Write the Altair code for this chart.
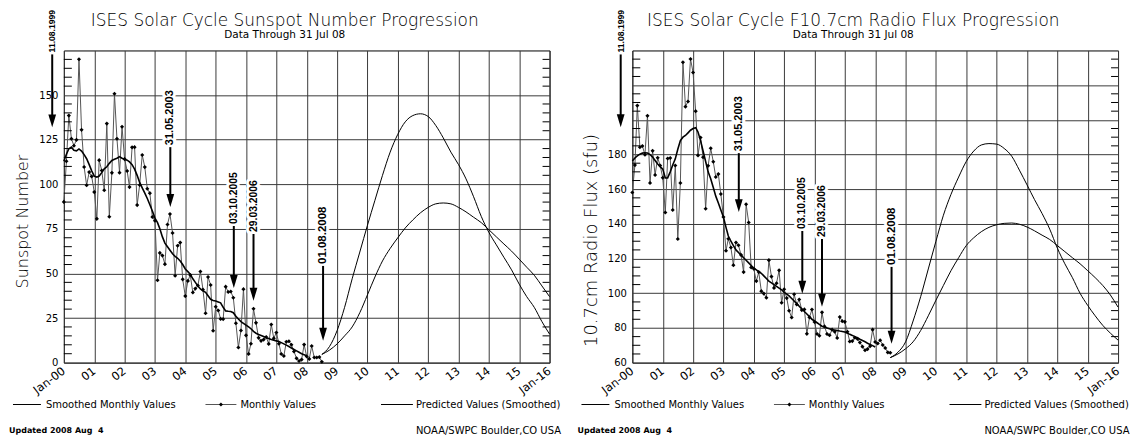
import json
import altair as alt
import pandas as pd

# ------------------------------------------------------------------ data
# Monthly sunspot number, Jan 2000 .. Jul 2008
ssn_monthly = [
    90.1, 112.9, 138.5, 125.5, 121.6, 124.9, 170.1, 130.5, 109.7, 99.4, 106.8, 104.4,
    95.6, 80.6, 113.5, 107.7, 96.6, 134.0, 81.8, 106.4, 150.7, 125.5, 106.5, 132.2,
    114.1, 107.4, 98.4, 120.7, 120.8, 88.3, 99.6, 116.4, 109.6, 97.5, 95.0, 81.6,
    79.5, 46.2, 61.5, 60.0, 55.2, 77.4, 83.3, 72.7, 48.7, 65.5, 67.3, 46.7,
    37.3, 45.8, 49.1, 39.3, 41.5, 43.2, 51.1, 40.9, 27.7, 48.0, 43.5, 17.9,
    31.3, 29.2, 24.5, 24.4, 42.6, 39.6, 39.9, 36.4, 22.1, 8.5, 18.0, 41.2,
    15.3, 4.9, 10.6, 30.2, 22.3, 13.9, 12.2, 12.9, 14.4, 10.5, 21.4, 13.6,
    16.9, 10.6, 4.8, 3.7, 11.7, 12.0, 10.0, 6.2, 2.4, 0.9, 1.7, 10.1,
    3.4, 2.1, 9.3, 2.9, 2.9, 3.1, 0.5,
]
# Smoothed monthly sunspot number, Jan 2000 .. Jan 2008
ssn_smoothed = [
    112.9, 116.8, 119.9, 120.8, 119.0, 118.7, 119.8, 118.6, 116.6, 114.3, 111.0, 107.5,
    104.5, 104.0, 104.6, 106.5, 108.6, 109.8, 111.7, 113.3, 114.0, 114.6, 115.5, 114.6,
    114.0, 113.5, 112.5, 111.0, 108.5, 105.0, 101.0, 98.0, 95.0, 92.0, 88.5, 85.0,
    81.0, 78.5, 75.0, 70.5, 67.0, 65.0, 63.0, 61.0, 59.5, 58.5, 57.0, 55.0,
    52.5, 51.0, 49.5, 47.0, 45.0, 43.0, 41.3, 40.2, 39.4, 37.5, 35.5, 34.8,
    34.5, 34.0, 33.5, 31.0, 29.0, 28.8, 28.7, 28.0, 26.0, 24.5, 23.0, 22.0,
    21.0, 20.0, 19.0, 17.5, 16.5, 15.8, 15.2, 14.6, 14.0, 13.5, 13.0, 12.6,
    12.2, 11.8, 11.2, 10.5, 9.8, 9.0, 8.2, 7.4, 6.6, 5.8, 5.0, 4.4,
    3.8,
]
# Predicted smoothed sunspot number, quarterly Jul 2008 .. Jan 2016
ssn_pred_high = [
    4.6, 9, 18, 31, 47, 62, 77, 91, 105, 118, 128, 135, 138.5, 139.5, 138, 133,
    126, 118, 111, 103, 93, 82, 73, 66, 59, 52, 44, 37, 31, 23, 16,
]
ssn_pred_low = [
    4.6, 7, 10.5, 15, 20, 28, 38, 48, 57, 64, 70, 75.5, 80, 84, 87, 89,
    89.5, 89, 87, 84.5, 81.5, 78.5, 74.5, 70.5, 66.5, 62.5, 58, 53.5, 49, 43, 37,
]

# Monthly 10.7 cm radio flux, Jan 2000 .. Jul 2008
f107_monthly = [
    158.1, 173.9, 208.2, 184.2, 184.9, 179.9, 202.3, 163.6, 182.1, 168.2, 178.1, 173.6,
    166.6, 146.6, 177.7, 178.0, 148.0, 173.7, 131.3, 163.6, 233.2, 207.6, 210.6, 235.1,
    227.3, 205.0, 179.5, 189.8, 178.4, 148.7, 173.5, 183.6, 175.8, 167.0, 168.7, 157.2,
    144.0, 124.5, 131.4, 126.4, 116.2, 129.3, 127.7, 122.1, 112.2, 151.3, 140.8, 114.9,
    114.1, 107.0, 112.2, 101.2, 99.8, 97.4, 119.1, 109.6, 103.1, 105.8, 113.2, 94.5,
    102.3, 97.2, 89.9, 86.0, 99.4, 93.5, 96.4, 90.3, 90.7, 76.6, 86.1, 90.6,
    83.4, 76.5, 75.5, 89.0, 80.9, 76.5, 75.8, 79.0, 77.8, 74.2, 86.3, 83.9,
    83.5, 77.8, 72.2, 72.4, 74.4, 73.7, 71.6, 69.2, 67.1, 67.8, 69.5, 79.0,
    71.9, 71.0, 72.9, 70.2, 68.4, 65.9, 65.7,
]
# Smoothed monthly radio flux, Jan 2000 .. Jan 2008
f107_smoothed = [
    176.3, 178.0, 179.2, 180.2, 180.8, 181.0, 180.9, 180.0, 178.5, 176.5, 174.5, 173.0,
    171.6, 166.5, 166.5, 170.0, 174.0, 177.5, 183.0, 188.0, 190.0, 191.0, 192.5, 194.0,
    195.0, 195.5, 193.0, 188.0, 182.0, 176.0, 170.0, 166.0, 161.0, 156.0, 152.0, 148.0,
    144.0, 138.0, 133.0, 130.0, 127.5, 125.0, 123.5, 122.0, 120.5, 119.0, 117.5, 116.0,
    114.5, 113.5, 112.5, 111.5, 110.0, 108.5, 107.0, 106.0, 105.0, 104.0, 103.0, 102.0,
    100.5, 99.5, 98.5, 97.0, 95.5, 94.0, 92.5, 91.0, 89.5, 88.0, 86.5, 85.0,
    84.0, 83.0, 82.0, 81.0, 80.5, 80.0, 79.5, 79.0, 78.8, 78.5, 78.2, 78.0,
    77.6, 77.0, 76.3, 75.7, 75.0, 74.3, 73.5, 72.8, 72.0, 71.2, 70.5, 69.8,
    69.0,
]
# Predicted smoothed radio flux, quarterly Jul 2008 .. Jan 2016
f107_pred_high = [
    62.9, 66, 72, 84, 98, 114, 130, 145, 157, 167, 176, 182, 185.5, 186.3, 186, 183.5,
    179, 171, 162.5, 154, 146, 137, 126, 117, 109, 100, 93, 87, 81.5, 77, 73,
]
f107_pred_low = [
    62.9, 65, 68, 72, 78.5, 87, 96, 104.5, 113, 120.5, 127.5, 132, 135.5, 138, 139.5, 140.3,
    140.5, 139.8, 138.2, 136, 133.5, 131, 127.5, 124, 120.5, 117, 113, 109, 104.5, 99, 92,
]

x_tick_labels = ["Jan-00", "01", "02", "03", "04", "05", "06", "07", "08",
                 "09", "10", "11", "12", "13", "14", "15", "Jan-16"]
ssn_y_ticks = [0, 25, 50, 75, 100, 125, 150]
f107_y_ticks = [60, 80, 100, 120, 140, 160, 180, 200, 220]
f107_label_max = 180
ssn_minor_ticks = [v for v in range(5, 175, 5) if v % 25]
f107_minor_ticks = [v for v in range(65, 240, 5) if v % 20]

annotation_labels = ["11.08.1999", "31.05.2003", "03.10.2005", "29.03.2006", "01.08.2008"]
annotation_dates = ["1999-08-14", "2003-07-05", "2005-08-07", "2006-04-01", "2008-07-16"]
annotation_font_sizes = [8.6, 11, 10.4, 10.4, 11.5]
ssn_ann_bottom = [172.8, 120.8, 76.6, 72.1, 54.2]
ssn_ann_tip = [131.9, 87.2, 41.9, 34.7, 12.3]
f107_ann_bottom = [237.7, 180.8, 135.9, 131.3, 115.2]
f107_ann_tip = [195.7, 146.8, 99.7, 92.2, 70.9]

legend_labels = ["Smoothed Monthly Values", "Monthly Values", "Predicted Values (Smoothed)"]
footer_left = "Updated 2008 Aug\u00a0 4"
footer_right = "NOAA/SWPC Boulder,CO USA"
subtitle = "Data Through 31 Jul 08"

# ------------------------------------------------------------------ style
FONT = "DejaVu Sans"
ANN_FONT = "Liberation Sans, Arial, sans-serif"
W, H = 487, 313
GRID = "#3a3a3a"
ARROW = "M -0.3 -1 L 0.3 -1 L 0 0 Z"

one_row = alt.Data(values=[{"k": 0}])


def txt(s, x, y, size=10, align="left", weight="normal"):
    return alt.Chart(one_row).mark_text(
        align=align, baseline="middle", font=FONT, fontSize=size,
        fontWeight=weight, color="black"
    ).encode(x=alt.value(x), y=alt.value(y), text=alt.value(s))


def seg(x1, x2, y, color="black", width=1):
    return alt.Chart(one_row).mark_rule(color=color, strokeWidth=width).encode(
        x=alt.value(x1), x2=alt.value(x2), y=alt.value(y))


def panel(title, ytitle, ytitle_size, monthly, smoothed, hi, lo, ydomain, yticks, label_max,
          minor, ann_bottom, ann_tip, title_y):
    xs = alt.Scale(domain=[alt.DateTime(year=2000, month=1, date=1),
                           alt.DateTime(year=2016, month=1, date=1)], nice=False)
    ys = alt.Scale(domain=ydomain, nice=False, zero=False)

    mdf = pd.DataFrame({"date": pd.date_range("2000-01-01", periods=len(monthly), freq="MS"),
                        "v": monthly})
    sdf = pd.DataFrame({"date": pd.date_range("2000-01-01", periods=len(smoothed), freq="MS"),
                        "v": smoothed})
    pdates = pd.date_range("2008-07-01", periods=len(hi), freq="QS")
    pdf = pd.concat([
        pd.DataFrame({"date": pdates, "v": hi, "s": "high"}),
        pd.DataFrame({"date": pdates, "v": lo, "s": "low"}),
    ])
    adf = pd.DataFrame({"label": annotation_labels, "date": pd.to_datetime(annotation_dates),
                        "bottom": ann_bottom, "tip": ann_tip, "fs": annotation_font_sizes})
    tdf = pd.DataFrame({"v": minor})

    xaxis = alt.Axis(
        values=[alt.DateTime(year=2000 + i, month=1, date=1) for i in range(len(x_tick_labels))],
        labelExpr=json.dumps(x_tick_labels) + "[year(datum.value) - 2000]",
        labelAngle=323, labelAlign="right", labelBaseline="middle", labelPadding=7,
        labelFont=FONT, labelFontSize=11.5, labelColor="black", labelOverlap=False,
        ticks=False, domain=False, grid=True, gridColor=GRID, gridWidth=1, title=None,
    )
    yaxis = alt.Axis(
        values=yticks,
        labelExpr="datum.value <= %d ? datum.label : ''" % label_max,
        labelFont=FONT, labelFontSize=10, labelColor="black", labelPadding=6,
        labelOverlap=False,
        ticks=False, domain=False, grid=True, gridColor=GRID, gridWidth=1,
        title=ytitle, titleFont=FONT, titleFontSize=ytitle_size, titleFontWeight=300,
        titleColor="black", titleAngle=270, titleAlign="center", titleBaseline="middle",
        titleX=-41, titleY=title_y,
    )

    def X():
        return alt.X("date:T", scale=xs, axis=xaxis)

    def Y(field):
        return alt.Y(field + ":Q", scale=ys, axis=yaxis)

    halo = alt.Chart(adf).transform_filter("year(datum.date) >= 2000").mark_text(
        angle=270, align="left", baseline="middle", font=ANN_FONT,
        fontWeight="bold", dx=2, fill="white", stroke="white", strokeWidth=6,
    ).encode(x=X(), y=Y("bottom"), text="label:N", size=alt.Size("fs:Q", scale=None))

    monthly_line = alt.Chart(mdf).mark_line(color="#555555", strokeWidth=1).encode(
        x=X(), y=Y("v"))
    monthly_pts = alt.Chart(mdf).mark_point(
        shape="diamond", filled=True, size=17, color="black", opacity=1).encode(x=X(), y=Y("v"))
    smooth_line = alt.Chart(sdf).mark_line(color="black", strokeWidth=1.6).encode(
        x=X(), y=Y("v"))
    pred_lines = alt.Chart(pdf).mark_line(color="black", strokeWidth=1,
                                          interpolate="monotone").encode(
        x=X(), y=Y("v"), detail="s:N")

    minor_left = alt.Chart(tdf).mark_rule(color="black", strokeWidth=1).encode(
        y=Y("v"), x=alt.value(0), x2=alt.value(8))
    minor_right = alt.Chart(tdf).mark_rule(color="black", strokeWidth=1).encode(
        y=Y("v"), x=alt.value(W - 7), x2=alt.value(W))

    ann_text = alt.Chart(adf).mark_text(
        angle=270, align="left", baseline="middle", font=ANN_FONT,
        fontWeight="bold", dx=2, color="black",
    ).encode(x=X(), y=Y("bottom"), text="label:N", size=alt.Size("fs:Q", scale=None))
    ann_rule = alt.Chart(adf).mark_rule(color="black", strokeWidth=2, y2Offset=-5).encode(
        x=X(), y=Y("bottom"), y2="tip:Q")
    ann_head = alt.Chart(adf).mark_point(
        shape=ARROW, size=676, filled=True, color="black", opacity=1, strokeWidth=0).encode(
        x=X(), y=Y("tip"))

    LY, FY = 355, 382
    cx = W / 2 - 22
    texts = [
        txt(title, cx, -30, size=17, align="center", weight=300),
        txt(subtitle, cx, -15, size=10.5, align="center"),
        seg(-51, -23, LY), txt(legend_labels[0], -18, LY),
        seg(142, 173, LY, color="#555555"),
        alt.Chart(one_row).mark_point(shape="diamond", filled=True, size=17, color="black",
                                      opacity=1).encode(x=alt.value(157.5), y=alt.value(LY)),
        txt(legend_labels[1], 177, LY),
        seg(318, 350, LY), txt(legend_labels[2], 353, LY),
        txt(footer_left, -55, FY, size=8, weight="bold"),
        txt(footer_right, 353, FY, size=10),
    ]

    return alt.layer(
        halo, monthly_line, smooth_line, pred_lines, monthly_pts,
        minor_left, minor_right, ann_text, ann_rule, ann_head, *texts,
    ).properties(width=W, height=H)


left = panel("ISES Solar Cycle Sunspot Number Progression", "Sunspot Number", 16,
             ssn_monthly, ssn_smoothed, ssn_pred_high, ssn_pred_low,
             [0, 175], ssn_y_ticks, 150, ssn_minor_ticks,
             ssn_ann_bottom, ssn_ann_tip, 171)
right = panel("ISES Solar Cycle F10.7cm Radio Flux Progression", "10.7cm Radio Flux (sfu)", 18,
              f107_monthly, f107_smoothed, f107_pred_high, f107_pred_low,
              [60, 240], f107_y_ticks, f107_label_max, f107_minor_ticks,
              f107_ann_bottom, f107_ann_tip, 190)

chart = alt.hconcat(left, right, spacing=83, bounds="flush").properties(
    padding={"left": 0, "top": 0, "right": 0, "bottom": 0},
    background="white",
).configure_view(stroke="black", strokeWidth=1)

chart.save("out.html", embed_options={"renderer": "svg", "actions": False})
